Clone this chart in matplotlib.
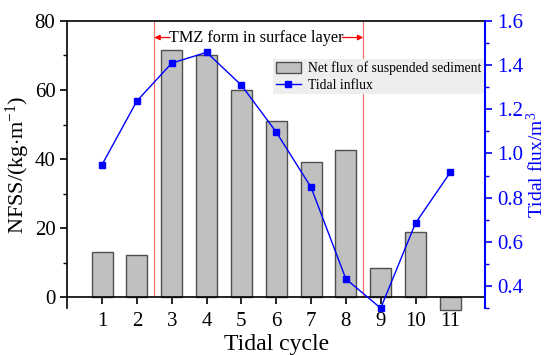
import matplotlib
matplotlib.use("Agg")
import matplotlib.pyplot as plt
from matplotlib.ticker import MultipleLocator, FormatStrFormatter

plt.rcParams['font.family'] = ['Liberation Serif', 'DejaVu Serif']
plt.rcParams['mathtext.fontset'] = 'custom'
plt.rcParams['mathtext.rm'] = 'Liberation Serif'
plt.rcParams['mathtext.it'] = 'Liberation Serif:italic'

cycles = [1, 2, 3, 4, 5, 6, 7, 8, 9, 10, 11]
nfss = [13.2, 12.3, 71.7, 70.0, 60.1, 50.9, 39.0, 42.5, 8.5, 19.0, -3.8]
tidal_flux = [0.95, 1.238, 1.409, 1.458, 1.309, 1.097, 0.847, 0.432, 0.30, 0.685, 0.915]
tmz_start, tmz_end = 2.5, 8.5

fig = plt.figure(figsize=(5.47, 3.55), dpi=100)
ax = fig.add_axes([0.123, 0.132, 0.764, 0.809])

ax.bar(cycles, nfss, width=0.6, color='#c0c0c0', edgecolor='#505050', linewidth=1.0,
       label='Net flux of suspended sediment', zorder=2, clip_on=False)
ax.set_xlim(0, 12)
ax.set_ylim(-3.2, 80)
ax.set_xticks(cycles)
ax.yaxis.set_major_locator(MultipleLocator(20))
ax.yaxis.set_minor_locator(MultipleLocator(10))
ax.spines['bottom'].set_position(('data', 0))
ax.spines['right'].set_visible(False)
for s in ['left', 'top', 'bottom']:
    ax.spines[s].set_linewidth(1.2)
ax.tick_params(axis='both', which='major', direction='out', length=5, width=1.2,
               labelsize=15, colors='black')
ax.tick_params(axis='y', which='minor', direction='out', length=3, width=1.0)
ax.tick_params(axis='x', pad=6)
ax.set_ylabel('NFSS/(kg$\\cdot$m$^{-1}$)', fontsize=16, labelpad=2)
ax.set_xlabel('Tidal cycle', fontsize=17)
ax.xaxis.label.set_va('baseline')
ax.xaxis.set_label_coords(0.5, (5 / 355 - 0.132) / 0.809)

ax.vlines([tmz_start, tmz_end], 0, 80, colors='#f07070', linewidth=0.9, zorder=1)
ty = 75.2
ax.text(5.42, ty, 'TMZ form in surface layer', ha='center', va='center', fontsize=11.7)
ax.annotate('', xy=(tmz_start, ty), xytext=(2.95, ty),
            arrowprops=dict(arrowstyle='-|>', color='red', lw=0.9, mutation_scale=8,
                            shrinkA=0, shrinkB=0))
ax.annotate('', xy=(tmz_end, ty), xytext=(7.89, ty),
            arrowprops=dict(arrowstyle='-|>', color='red', lw=0.9, mutation_scale=8,
                            shrinkA=0, shrinkB=0))

ax2 = ax.twinx()
ax2.plot(cycles, tidal_flux, color='#0000ff', linewidth=1.0, marker='s', markersize=4.5,
         label='Tidal influx', zorder=3, clip_on=False)
ax2.set_ylim(0.3, 1.6)
ax2.yaxis.set_major_locator(MultipleLocator(0.2))
ax2.yaxis.set_minor_locator(MultipleLocator(0.1))
ax2.yaxis.set_major_formatter(FormatStrFormatter('%.1f'))
for s in ['left', 'top', 'bottom']:
    ax2.spines[s].set_visible(False)
ax2.spines['right'].set_color('#0000ff')
ax2.spines['right'].set_linewidth(1.5)
ax2.tick_params(axis='y', which='major', direction='out', length=5, width=1.2,
                colors='#0000ff', labelsize=15)
ax2.tick_params(axis='y', which='minor', direction='out', length=3, width=1.0,
                colors='#0000ff')
ax2.set_ylabel('Tidal flux/m$^{3}$', fontsize=14, color='#0000ff', labelpad=2)

h1, l1 = ax.get_legend_handles_labels()
h2, l2 = ax2.get_legend_handles_labels()
leg = ax2.legend(h1 + h2, l1 + l2, loc='upper right', bbox_to_anchor=(0.998, 0.868),
                 fontsize=9.8, frameon=True, fancybox=False, facecolor='#eeeeee',
                 edgecolor='none', framealpha=1.0, handlelength=1.85, handleheight=0.8,
                 borderpad=0.2, labelspacing=0.25, handletextpad=0.55, borderaxespad=0)

fig.savefig('out.png', dpi=100)
